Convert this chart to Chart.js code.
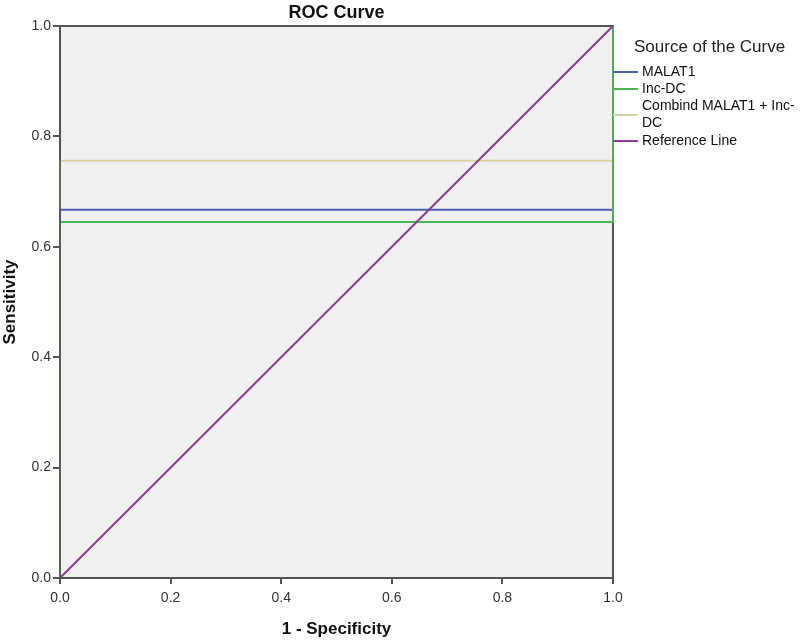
<!DOCTYPE html>
<html lang="en">
<head>
<meta charset="UTF-8">
<title>ROC Curve</title>
<style>
    body { margin: 0; background: #fff; }
    #wrap { width: 800px; height: 640px; }
</style>
</head>
<body>
<div id="wrap"><canvas id="roc" width="800" height="640"></canvas></div>
<script src="https://cdn.jsdelivr.net/npm/chart.js"></script>
<script>
// data
const seriesNames = ['MALAT1', 'Inc-DC', 'Combind MALAT1 + Inc-DC', 'Reference Line'];
const legendLines = [['MALAT1'], ['Inc-DC'], ['Combind MALAT1 + Inc-', 'DC'], ['Reference Line']];
const seriesColors = ['#4a62b4', '#45b653', '#d9d3a2', '#8e3a97'];
const fprMalat = [0, 0, 1, 1];
const sensMalat = [0, 0.667, 0.667, 1];
const fprInc = [0, 0, 1, 1];
const sensInc = [0, 0.645, 0.645, 1];
const fprComb = [0, 0, 1, 1];
const sensComb = [0, 0.756, 0.756, 1];
const fprRef = [0, 1];
const sensRef = [0, 1];
const tickValues = [0, 0.2, 0.4, 0.6, 0.8, 1.0];

function pts(xs, ys) {
    return xs.map((x, i) => ({ x: x, y: ys[i] }));
}

const plotBg = {
    id: 'plotBg',
    beforeDatasetsDraw(chart) {
        const { ctx, chartArea: a } = chart;
        ctx.save();
        ctx.fillStyle = '#f0f0f0';
        ctx.fillRect(a.left, a.top, a.right - a.left, a.bottom - a.top);
        ctx.strokeStyle = '#555';
        ctx.lineWidth = 2;
        ctx.strokeRect(a.left, a.top, a.right - a.left, a.bottom - a.top);
        ctx.restore();
    },
    afterDatasetsDraw(chart) {
        const { ctx, chartArea: a } = chart;
        ctx.save();
        ctx.strokeStyle = 'rgba(80,85,80,0.85)';
        ctx.lineWidth = 2;
        ctx.beginPath();
        ctx.moveTo(a.left, a.top);
        ctx.lineTo(a.left, a.bottom);
        ctx.lineTo(a.right, a.bottom);
        ctx.stroke();
        ctx.restore();
    },
    afterDraw(chart) {
        const { ctx, chartArea: a } = chart;
        ctx.save();
        // title
        ctx.fillStyle = '#111';
        ctx.font = 'bold 18px Arial, "Liberation Sans", sans-serif';
        ctx.textAlign = 'center';
        ctx.textBaseline = 'alphabetic';
        ctx.fillText('ROC Curve', (a.left + a.right) / 2, 18);
        // legend
        ctx.textAlign = 'left';
        ctx.font = '17px Arial, "Liberation Sans", sans-serif';
        ctx.fillStyle = '#222';
        ctx.fillText('Source of the Curve', a.right + 21, 52);
        ctx.font = '14px Arial, "Liberation Sans", sans-serif';
        ctx.textBaseline = 'middle';
        const rowY = [72, 89, 115, 141];
        legendLines.forEach((lines, i) => {
            const y = rowY[i];
            ctx.strokeStyle = seriesColors[i];
            ctx.lineWidth = 2;
            ctx.beginPath();
            ctx.moveTo(a.right, y);
            ctx.lineTo(a.right + 25, y);
            ctx.stroke();
            ctx.fillStyle = '#111';
            const off = (lines.length - 1) * 8.5;
            lines.forEach((t, j) => ctx.fillText(t, a.right + 29, y - off + j * 17));
        });
        ctx.restore();
    }
};

const tickFont = { family: 'Arial, "Liberation Sans", sans-serif', size: 14 };
const titleFont = { family: 'Arial, "Liberation Sans", sans-serif', size: 17, weight: 'bold', lineHeight: 1.2 };

new Chart(document.getElementById('roc').getContext('2d'), {
    type: 'line',
    data: {
        datasets: [
            { label: seriesNames[0], data: pts(fprMalat, sensMalat), borderColor: seriesColors[0], order: 3 },
            { label: seriesNames[1], data: pts(fprInc, sensInc), borderColor: seriesColors[1], order: 2 },
            { label: seriesNames[2], data: pts(fprComb, sensComb), borderColor: seriesColors[2], order: 4 },
            { label: seriesNames[3], data: pts(fprRef, sensRef), borderColor: seriesColors[3], order: 1 }
        ]
    },
    options: {
        responsive: false,
        animation: false,
        devicePixelRatio: 1,
        datasets: {
            line: { borderWidth: 2, pointRadius: 0, fill: false, tension: 0, clip: 4 }
        },
        layout: { padding: { top: 26, right: 187, left: 0, bottom: 0 } },
        plugins: {
            legend: { display: false },
            tooltip: { enabled: false }
        },
        scales: {
            x: {
                type: 'linear',
                min: 0, max: 1,
                afterFit(s) { s.height = 62; },
                afterBuildTicks(s) { s.ticks = tickValues.map(v => ({ value: v })); },
                ticks: { font: tickFont, color: '#333', padding: 6, callback: v => v.toFixed(1) },
                grid: { drawOnChartArea: false, tickLength: 6, color: '#555', lineWidth: 2 },
                border: { display: false },
                title: { display: true, text: '1 - Specificity', font: titleFont, color: '#111', padding: 0 }
            },
            y: {
                type: 'linear',
                min: 0, max: 1,
                afterFit(s) { s.width = 60; },
                afterBuildTicks(s) { s.ticks = tickValues.map(v => ({ value: v })); },
                ticks: { font: tickFont, color: '#333', padding: 2, callback: v => v.toFixed(1) },
                grid: { drawOnChartArea: false, tickLength: 7, color: '#555', lineWidth: 2 },
                border: { display: false },
                title: { display: true, text: 'Sensitivity', font: titleFont, color: '#111', padding: 0 }
            }
        }
    },
    plugins: [plotBg]
});
</script>
</body>
</html>
